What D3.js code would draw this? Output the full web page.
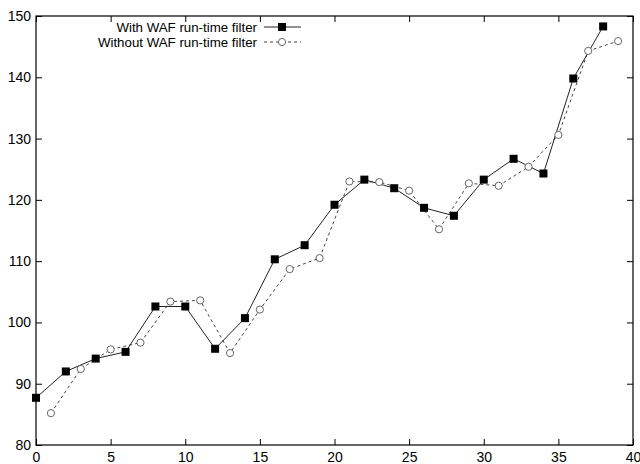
<!DOCTYPE html>
<html>
<head>
<meta charset="utf-8">
<script src="https://cdn.jsdelivr.net/npm/d3@7"></script>
<style>
  body { margin: 0; background: #fff; }
  svg { display: block; font-family: "Liberation Sans", Arial, sans-serif; }
</style>
</head>
<body>
<svg id="chart" width="640" height="464"></svg>
<script>
// data
var withX = [0, 2, 4, 6, 8, 10, 12, 14, 16, 18, 20, 22, 24, 26, 28, 30, 32, 34, 36, 38];
var withY = [87.7, 92.0, 94.1, 95.2, 102.6, 102.6, 95.7, 100.7, 110.3, 112.6,
             119.2, 123.3, 121.9, 118.7, 117.4, 123.3, 126.7, 124.3, 139.8, 148.3];
var withoutX = [1, 3, 5, 7, 9, 11, 13, 15, 17, 19, 21, 23, 25, 27, 29, 31, 33, 35, 37, 39];
var withoutY = [85.2, 92.4, 95.6, 96.7, 103.4, 103.6, 95.0, 102.1, 108.7, 110.5,
                123.0, 122.9, 121.5, 115.2, 122.7, 122.3, 125.4, 130.6, 144.3, 145.9];
var xTicks = [0, 5, 10, 15, 20, 25, 30, 35, 40];
var yTicks = [80, 90, 100, 110, 120, 130, 140, 150];
var seriesNames = ["With WAF run-time filter", "Without WAF run-time filter"];

var svg = d3.select("#chart");
// plot box (window.top is reserved, so different names)
var pLeft = 36, pRight = 633, pTop = 16, pBottom = 445;

var x = d3.scaleLinear().domain([0, 40]).range([pLeft, pRight]);
var y = d3.scaleLinear().domain([80, 150]).range([pBottom, pTop]);

// axes, ticks pointing inward
var axes = svg.append("g");

axes.append("g").attr("transform", "translate(0," + pBottom + ")")
  .call(d3.axisBottom(x).tickValues(xTicks).tickSizeInner(-6).tickSizeOuter(0).tickPadding(7));
axes.append("g").attr("transform", "translate(0," + pTop + ")")
  .call(d3.axisTop(x).tickValues(xTicks).tickSizeInner(-6).tickSizeOuter(0).tickFormat(""));
axes.append("g").attr("transform", "translate(" + pLeft + ",0)")
  .call(d3.axisLeft(y).tickValues(yTicks).tickSizeInner(-6).tickSizeOuter(0).tickPadding(5));
axes.append("g").attr("transform", "translate(" + pRight + ",0)")
  .call(d3.axisRight(y).tickValues(yTicks).tickSizeInner(-6).tickSizeOuter(0).tickFormat(""));

axes.selectAll(".domain").remove();
axes.selectAll("g").attr("font-size", 14).attr("font-family", "Liberation Sans, Arial, sans-serif");
axes.selectAll("text").attr("fill", "#000");
axes.selectAll(".tick line").attr("stroke", "#000");

svg.append("rect")
  .attr("x", pLeft).attr("y", pTop)
  .attr("width", pRight - pLeft).attr("height", pBottom - pTop)
  .attr("fill", "none").attr("stroke", "#000").attr("stroke-width", 1.2);

var withPts = withX.map(function(d, i) { return [d, withY[i]]; });
var withoutPts = withoutX.map(function(d, i) { return [d, withoutY[i]]; });

var line = d3.line().x(function(d) { return x(d[0]); }).y(function(d) { return y(d[1]); });

svg.append("path").datum(withoutPts)
  .attr("d", line).attr("fill", "none")
  .attr("stroke", "#444").attr("stroke-width", 1).attr("stroke-dasharray", "3,3");

svg.append("path").datum(withPts)
  .attr("d", line).attr("fill", "none")
  .attr("stroke", "#222").attr("stroke-width", 1);

svg.selectAll("circle.pt").data(withoutPts).enter().append("circle")
  .attr("class", "pt")
  .attr("cx", function(d) { return x(d[0]); })
  .attr("cy", function(d) { return y(d[1]); })
  .attr("r", 3.6)
  .attr("fill", "#fff").attr("stroke", "#666").attr("stroke-width", 1);

svg.selectAll("rect.pt").data(withPts).enter().append("rect")
  .attr("class", "pt")
  .attr("x", function(d) { return x(d[0]) - 4; })
  .attr("y", function(d) { return y(d[1]) - 4; })
  .attr("width", 8).attr("height", 8)
  .attr("fill", "#000");

// legend
var legend = svg.append("g").attr("font-size", 13.3);
var rowY = [27, 42];
seriesNames.forEach(function(name, i) {
  legend.append("text")
    .attr("x", 257).attr("y", rowY[i]).attr("dy", "0.35em")
    .attr("text-anchor", "end").attr("fill", "#000")
    .text(name);
  legend.append("line")
    .attr("x1", 264).attr("x2", 301).attr("y1", rowY[i]).attr("y2", rowY[i])
    .attr("stroke", i === 0 ? "#222" : "#444")
    .attr("stroke-dasharray", i === 0 ? null : "3,3");
  if (i === 0) {
    legend.append("rect").attr("x", 278).attr("y", rowY[i] - 4)
      .attr("width", 8).attr("height", 8).attr("fill", "#000");
  } else {
    legend.append("circle").attr("cx", 282).attr("cy", rowY[i]).attr("r", 3.6)
      .attr("fill", "#fff").attr("stroke", "#666");
  }
});
</script>
</body>
</html>
